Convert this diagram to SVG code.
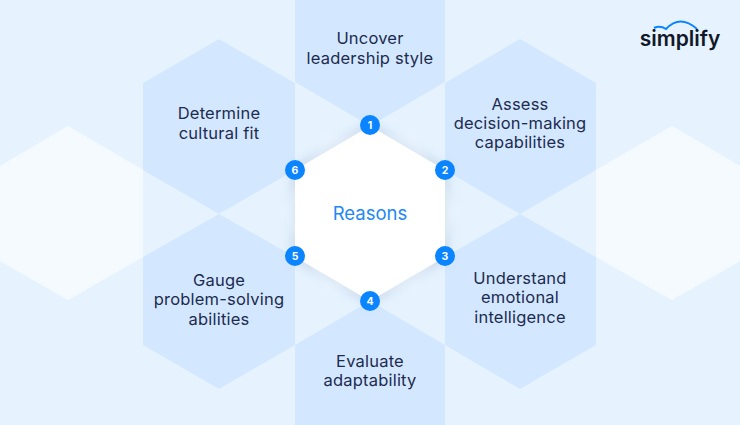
<svg xmlns="http://www.w3.org/2000/svg" width="740" height="425" viewBox="0 0 740 425">
<defs>
<style>
.hex{fill:#d3e8ff}
.far{fill:#f5faff}
.t{font-family:Inter,"Liberation Sans",sans-serif;font-size:16.5px;letter-spacing:.2px;fill:#1d2b4f;text-anchor:middle}
.b{fill:#0a84ff}
.n{font-family:Inter,"Liberation Sans",sans-serif;font-size:10.5px;font-weight:700;fill:#fff;text-anchor:middle}
</style>
<filter id="s" x="-30%" y="-30%" width="160%" height="160%"><feGaussianBlur stdDeviation="6"/></filter>
<filter id="p" x="-30%" y="-30%" width="160%" height="160%"><feGaussianBlur stdDeviation="3"/></filter>
</defs>
<rect width="740" height="425" fill="#e6f3ff"/>
<g id="far-left"><polygon class="far" points="68,126 143,170 143,257 68,300 -7,257 -7,170"/></g>
<g id="far-right"><polygon class="far" points="672,126 747,170 747,257 672,300 596,257 596,170"/></g>
<g id="reason-1"><polygon class="hex" points="370,-49 445,-5 445,82 370,126 295,82 295,-5"/>
<text class="t" x="370" y="44">Uncover</text><text class="t" x="370" y="64">leadership style</text></g>
<g id="reason-2"><polygon class="hex" points="520,39 596,83 596,170 520,214 445,170 445,83"/>
<text class="t" x="520" y="110">Assess</text><text class="t" x="520" y="129">decision-making</text><text class="t" x="520" y="148">capabilities</text></g>
<g id="reason-3"><polygon class="hex" points="520,214 596,257 596,345 520,389 445,345 445,257"/>
<text class="t" x="520" y="284">Understand</text><text class="t" x="520" y="303">emotional</text><text class="t" x="520" y="323">intelligence</text></g>
<g id="reason-4"><polygon class="hex" points="370,301 445,345 445,432 370,476 295,432 295,345"/>
<text class="t" x="370" y="367">Evaluate</text><text class="t" x="370" y="386">adaptability</text></g>
<g id="reason-5"><polygon class="hex" points="219,214 295,257 295,345 219,389 143,345 143,257"/>
<text class="t" x="219" y="286">Gauge</text><text class="t" x="219" y="305">problem-solving</text><text class="t" x="219" y="325">abilities</text></g>
<g id="reason-6"><polygon class="hex" points="219,39 295,83 295,170 219,214 143,170 143,83"/>
<text class="t" x="219" y="119">Determine</text><text class="t" x="219" y="139">cultural fit</text></g>
<g id="center">
<polygon points="370,123 448,168 448,259 370,304 292,259 292,168" fill="#a9bcd2" opacity=".5" filter="url(#s)"/>
<polygon points="460,213 415,135 325,135 280,213 325,291 415,291" fill="#eef6ff" opacity=".45" filter="url(#p)"/>
<polygon points="370,126 445,170 445,257 370,301 295,257 295,170" fill="#fff"/>
<text x="370" y="220" font-family="Inter,'Liberation Sans',sans-serif" font-size="18.5px" fill="#1e88f5" text-anchor="middle">Reasons</text>
</g>
<g id="badges">
<g id="badge-1"><circle class="b" cx="370" cy="125" r="10"/><text class="n" x="370" y="129">1</text></g>
<g id="badge-2"><circle class="b" cx="445" cy="170" r="10"/><text class="n" x="445" y="174">2</text></g>
<g id="badge-3"><circle class="b" cx="445" cy="256" r="10"/><text class="n" x="445" y="260">3</text></g>
<g id="badge-4"><circle class="b" cx="370" cy="301" r="10"/><text class="n" x="370" y="305">4</text></g>
<g id="badge-5"><circle class="b" cx="295" cy="256" r="10"/><text class="n" x="295" y="260">5</text></g>
<g id="badge-6"><circle class="b" cx="295" cy="170" r="10"/><text class="n" x="295" y="174">6</text></g>
</g>
<g id="logo">
<path d="M654 28Q660 25 666 29Q680 14 697 29" fill="none" stroke="#0a84ff" stroke-width="2"/>
<text x="680" y="46" font-family="Inter,'Liberation Sans',sans-serif" font-size="21px" font-weight="600" fill="#111827" text-anchor="middle">simplify</text>
</g>
</svg>
